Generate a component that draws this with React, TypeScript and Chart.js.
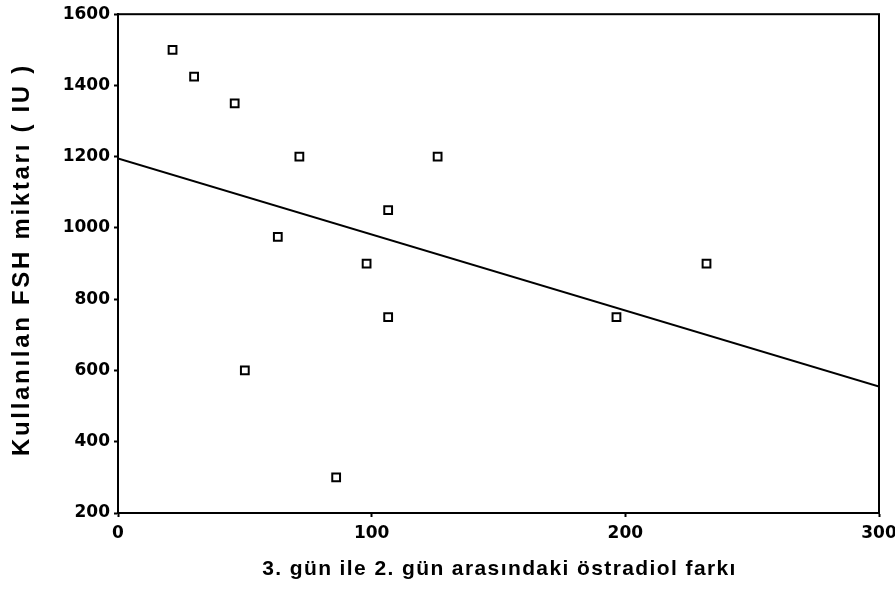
import React, { useEffect, useRef } from "react";
import { Chart, registerables } from "chart.js";

Chart.register(...registerables);

// Observations: estradiol difference (day 3 - day 2) vs. FSH dose used
const estradiolDiff = [21.5, 30, 46, 71.5, 63, 50, 86, 98, 106.5, 106.5, 126, 196.5, 232];
const fshDose = [1500, 1425, 1350, 1200, 975, 600, 300, 900, 1050, 750, 1200, 750, 900];

// Fitted regression line end points
const fitX = [0, 300];
const fitY = [1195, 555];

const xTicks = [0, 100, 200, 300];
const yTicks = [200, 400, 600, 800, 1000, 1200, 1400, 1600];

const xTitle = "3. gün ile 2. gün arasındaki östradiol farkı";
const yTitle = "Kullanılan FSH miktarı ( IU )";

const TITLE_FAMILY = "'Liberation Sans', Arial, sans-serif";

// Box around the plotting area
const framePlugin = {
  id: "frame",
  afterDatasetsDraw(chart: any) {
    const { ctx, chartArea } = chart;
    ctx.save();
    ctx.strokeStyle = "#000";
    ctx.lineWidth = 2;
    ctx.strokeRect(chartArea.left, chartArea.top, chartArea.right - chartArea.left, chartArea.bottom - chartArea.top);
    ctx.restore();
  },
};

// Axis titles, drawn with wide tracking
const axisTitlePlugin = {
  id: "axisTitles",
  afterDraw(chart: any) {
    const { ctx, chartArea } = chart;
    const midX = (chartArea.left + chartArea.right) / 2;
    const midY = (chartArea.top + chartArea.bottom) / 2;
    ctx.save();
    ctx.fillStyle = "#000";
    ctx.textAlign = "center";
    ctx.textBaseline = "middle";

    ctx.font = `bold 21px ${TITLE_FAMILY}`;
    (ctx as any).letterSpacing = "1.4px";
    ctx.fillText(xTitle, midX + 1, chartArea.bottom + 56);

    ctx.translate(22, midY - 4);
    ctx.rotate(-Math.PI / 2);
    ctx.font = `bold 24px ${TITLE_FAMILY}`;
    (ctx as any).letterSpacing = "2.7px";
    ctx.fillText(yTitle, 0, 0);
    ctx.restore();
  },
};

export default function App() {
  const ref = useRef<HTMLCanvasElement | null>(null);

  useEffect(() => {
    if (!ref.current) return;
    const tickFont = { family: "'DejaVu Sans', sans-serif", size: 17, weight: "bold" as const };
    const chart = new Chart(ref.current, {
      type: "scatter",
      data: {
        datasets: [
          {
            type: "scatter",
            data: estradiolDiff.map((x, i) => ({ x, y: fshDose[i] })),
            pointStyle: "rect",
            pointRadius: 5.5,
            pointBorderWidth: 2,
            borderColor: "#000",
            backgroundColor: "rgba(255,255,255,0)",
          },
          {
            type: "line",
            data: fitX.map((x, i) => ({ x, y: fitY[i] })),
            borderColor: "#000",
            borderWidth: 2,
            pointRadius: 0,
            fill: false,
          },
        ],
      },
      options: {
        animation: false,
        responsive: false,
        layout: { padding: { top: 13, right: 16, left: 0, bottom: 0 } },
        plugins: { legend: { display: false }, tooltip: { enabled: false } },
        scales: {
          x: {
            type: "linear",
            min: 0,
            max: 300,
            afterBuildTicks: (s: any) => {
              s.ticks = xTicks.map((v) => ({ value: v }));
            },
            afterFit: (s: any) => {
              s.height = 92;
              s.paddingLeft = 0;
              s.paddingRight = 0;
            },
            border: { display: true, color: "#000", width: 2 },
            grid: { drawOnChartArea: false, drawTicks: true, tickLength: 4, tickWidth: 2, tickColor: "#000" },
            ticks: { color: "#000", font: tickFont, padding: 6, maxRotation: 0, callback: (v: any) => String(v) },
          },
          y: {
            type: "linear",
            min: 200,
            max: 1600,
            afterBuildTicks: (s: any) => {
              s.ticks = yTicks.map((v) => ({ value: v }));
            },
            afterFit: (s: any) => {
              s.width = 118;
            },
            border: { display: true, color: "#000", width: 2 },
            grid: { drawOnChartArea: false, drawTicks: true, tickLength: 4, tickWidth: 2, tickColor: "#000" },
            ticks: { color: "#000", font: tickFont, padding: 4, callback: (v: any) => String(v) },
          },
        },
      },
      plugins: [framePlugin, axisTitlePlugin],
    });
    return () => chart.destroy();
  }, []);

  return (
    <div style={{ position: "fixed", left: 0, top: 0, width: 895, height: 605, background: "#fff" }}>
      <canvas ref={ref} width={895} height={605} style={{ display: "block", width: 895, height: 605 }} />
    </div>
  );
}
